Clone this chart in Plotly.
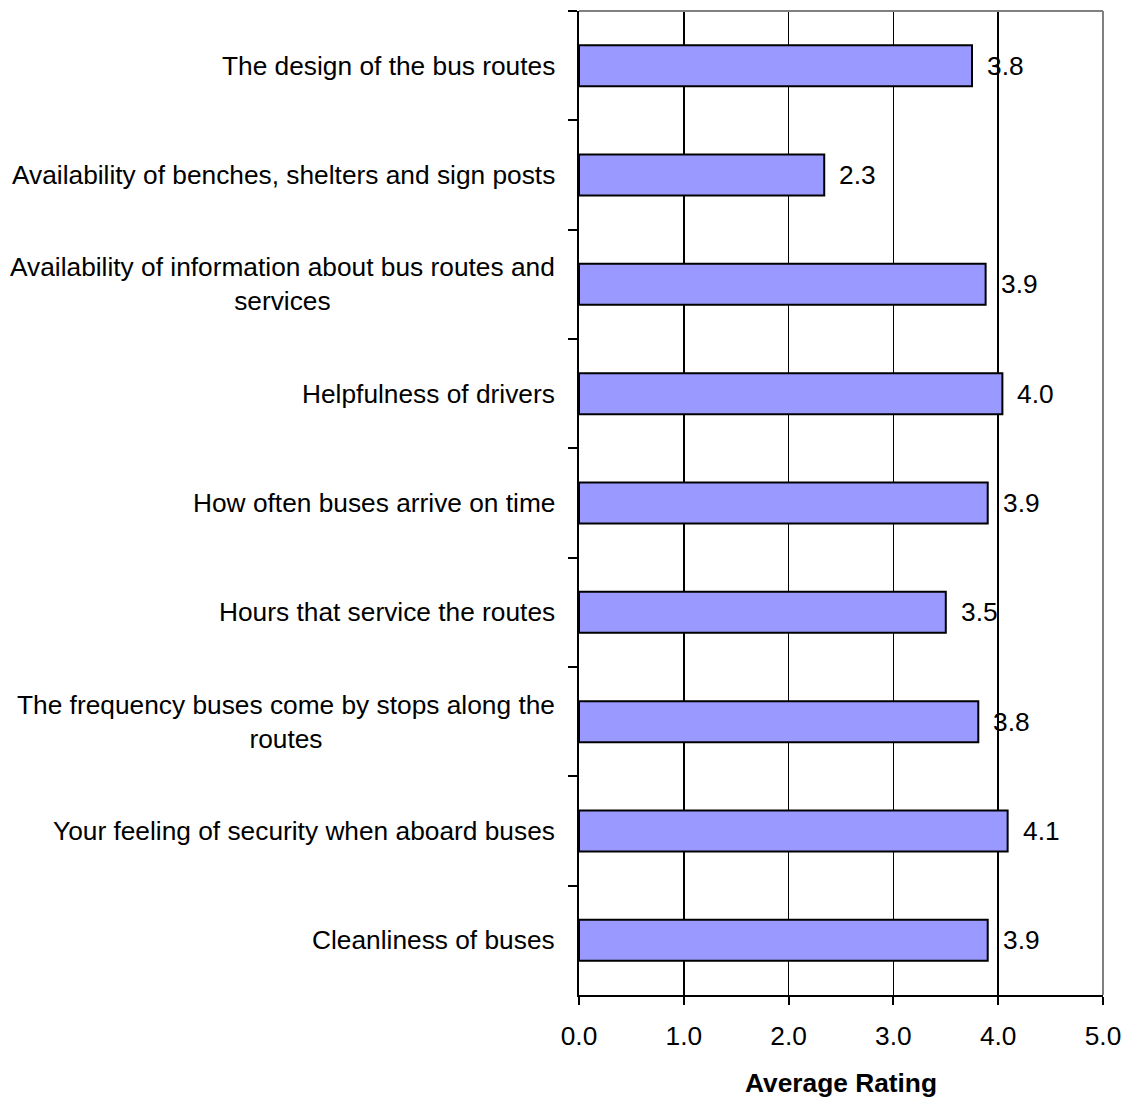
import plotly.graph_objects as go

categories = [
    "The design of the bus routes",
    "Availability of benches, shelters and sign posts",
    "Availability of information about bus routes and<br>services",
    "Helpfulness of drivers",
    "How often buses arrive on time",
    "Hours that service the routes",
    "The frequency buses come by stops along the<br>routes",
    "Your feeling of security when aboard buses",
    "Cleanliness of buses",
]
ratings = [3.75, 2.34, 3.88, 4.04, 3.90, 3.50, 3.81, 4.09, 3.90]
x_ticks = [0, 1, 2, 3, 4, 5]
x_tick_labels = ["0.0", "1.0", "2.0", "3.0", "4.0", "5.0"]

FONT = "Liberation Sans, Arial, sans-serif"
FS = 26.3

fig = go.Figure()
fig.add_trace(go.Bar(
    x=ratings,
    y=categories,
    orientation="h",
    width=0.375,
    marker=dict(color="#9999FF", line=dict(color="black", width=2)),
    hoverinfo="skip",
))

annotations = []
for cat in categories:
    annotations.append(dict(
        x=0, xref="paper", y=cat, yref="y",
        text=cat, showarrow=False, xanchor="right", yanchor="middle",
        xshift=-22, align="center",
        font=dict(family=FONT, size=FS, color="black"),
    ))
for cat, val in zip(categories, ratings):
    annotations.append(dict(
        x=val, xref="x", y=cat, yref="y",
        text=f"{val:.1f}", showarrow=False, xanchor="left", yanchor="middle",
        xshift=13,
        font=dict(family=FONT, size=FS, color="black"),
    ))

fig.update_layout(
    autosize=False,
    width=1127, height=1099,
    margin=dict(l=579, r=24, t=11, b=104, autoexpand=False),
    plot_bgcolor="white", paper_bgcolor="white",
    showlegend=False,
    font=dict(family=FONT, size=FS, color="black"),
    annotations=annotations,
    shapes=[
        dict(type="line", xref="paper", yref="paper", x0=0, x1=1, y0=1, y1=1,
             line=dict(color="#808080", width=2)),
        dict(type="line", xref="paper", yref="paper", x0=1, x1=1, y0=0, y1=1,
             line=dict(color="#808080", width=2)),
    ],
)
fig.update_xaxes(
    automargin=False,
    range=[0, 5], tickvals=x_ticks, ticktext=x_tick_labels,
    showgrid=True, gridcolor="black", gridwidth=1.5,
    zeroline=False, showline=True, linecolor="black", linewidth=2,
    ticks="outside", ticklen=8, tickwidth=2, tickcolor="black",
    ticklabelstandoff=8,
    tickfont=dict(family=FONT, size=FS, color="black"),
    title=dict(text="<b>Average Rating</b>", font=dict(family=FONT, size=FS, color="black"), standoff=24),
)
fig.update_yaxes(
    automargin=False,
    categoryorder="array", categoryarray=categories, autorange="reversed",
    showticklabels=False, showgrid=False, zeroline=False,
    showline=True, linecolor="black", linewidth=2,
    ticks="outside", tickson="boundaries", ticklen=9, tickwidth=2, tickcolor="black",
)

fig.write_html(
    "out.html",
    config={"responsive": False, "displayModeBar": False, "staticPlot": True},
    post_script="document.body.style.margin='0';document.body.style.overflow='hidden';",
)
